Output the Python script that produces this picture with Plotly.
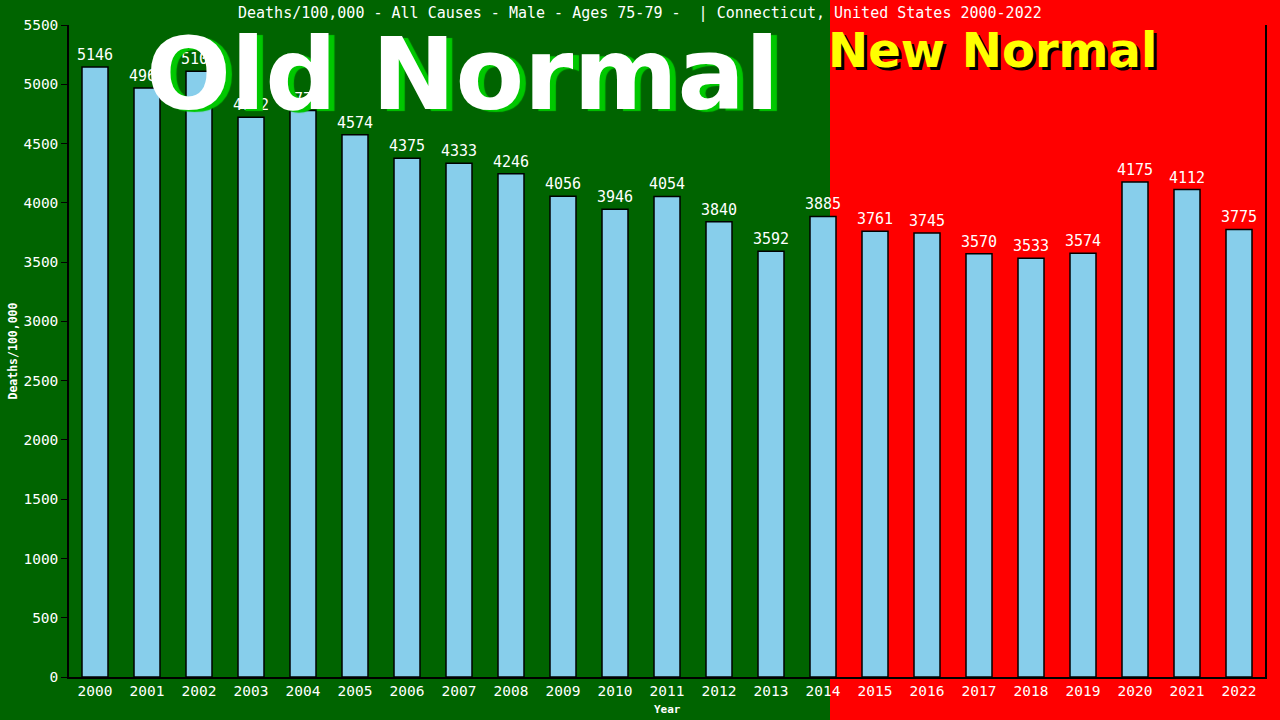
import plotly.graph_objects as go

years = [str(y) for y in range(2000, 2023)]
deaths = [5146, 4968, 5109, 4722, 4778, 4574, 4375, 4333, 4246, 4056, 3946, 4054,
          3840, 3592, 3885, 3761, 3745, 3570, 3533, 3574, 4175, 4112, 3775]
labels = [str(v) for v in deaths]
title_text = "Deaths/100,000 - All Causes - Male - Ages 75-79 -  | Connecticut, United States 2000-2022"

MONO = "DejaVu Sans Mono"
W, H = 1280, 720
L, R, T, B = 69, 15, 25, 43
pw, ph = W - L - R, H - T - B

def px_x(p):
    return (p - L) / pw

def px_y(p):
    return (H - B - p) / ph

fig = go.Figure()
fig.add_trace(go.Bar(
    x=years, y=deaths, text=labels, textposition="outside",
    constraintext="none",
    textfont=dict(family=MONO, size=15, color="white"),
    marker=dict(color="#87CEEB", line=dict(color="black", width=1.5)),
    cliponaxis=False, showlegend=False,
))

fig.update_layout(
    width=W, height=H,
    margin=dict(l=L, r=R, t=T, b=B, autoexpand=False),
    paper_bgcolor="#006400",
    plot_bgcolor="rgba(0,0,0,0)",
    bargap=0.5,
    shapes=[dict(type="rect", xref="paper", yref="paper",
                 x0=px_x(830), x1=px_x(1285), y0=px_y(725), y1=px_y(-5),
                 fillcolor="#FF0000", line=dict(width=0), layer="below")],
    annotations=[
        dict(text=title_text, xref="paper", yref="paper", x=px_x(640), y=px_y(13),
             xanchor="center", yanchor="middle", showarrow=False,
             font=dict(family=MONO, size=15, color="white")),
        dict(text="Old Normal", xref="paper", yref="paper", x=px_x(462), y=px_y(74),
             xanchor="center", yanchor="middle", showarrow=False,
             font=dict(family="DejaVu Sans", size=100, color="white", weight="bold",
                       shadow="6px 2px 1px #00C800")),
        dict(text="New Normal", xref="paper", yref="paper", x=px_x(992), y=px_y(50),
             xanchor="center", yanchor="middle", showarrow=False,
             font=dict(family="DejaVu Sans", size=48, color="#FFFF00", weight="bold",
                       shadow="3px 3px 0px #000000")),
        dict(text="<b>Deaths/100,000</b>", xref="paper", yref="paper", x=px_x(12.5), y=px_y(351),
             xanchor="center", yanchor="middle", showarrow=False, textangle=-90,
             font=dict(family=MONO, size=11.5, color="white")),
        dict(text="<b>Year</b>", xref="paper", yref="paper", x=px_x(667), y=px_y(709),
             xanchor="center", yanchor="middle", showarrow=False,
             font=dict(family=MONO, size=11, color="white")),
    ],
    xaxis=dict(
        type="category", range=[-0.5, 22.5], automargin=False,
        showline=True, linecolor="black", linewidth=1.5,
        ticks="", showgrid=False,
        tickfont=dict(family=MONO, size=14.5, color="white"),
    ),
    yaxis=dict(
        range=[0, 5500], dtick=500, automargin=False,
        showline=True, linecolor="black", linewidth=1.5, mirror=True,
        ticks="outside", ticklen=6, tickcolor="black",
        showgrid=False, zeroline=False,
        tickfont=dict(family=MONO, size=14.5, color="white"),
    ),
)

fig.write_html("out.html", config={"displayModeBar": False},
               post_script="document.body.style.margin='0';")
